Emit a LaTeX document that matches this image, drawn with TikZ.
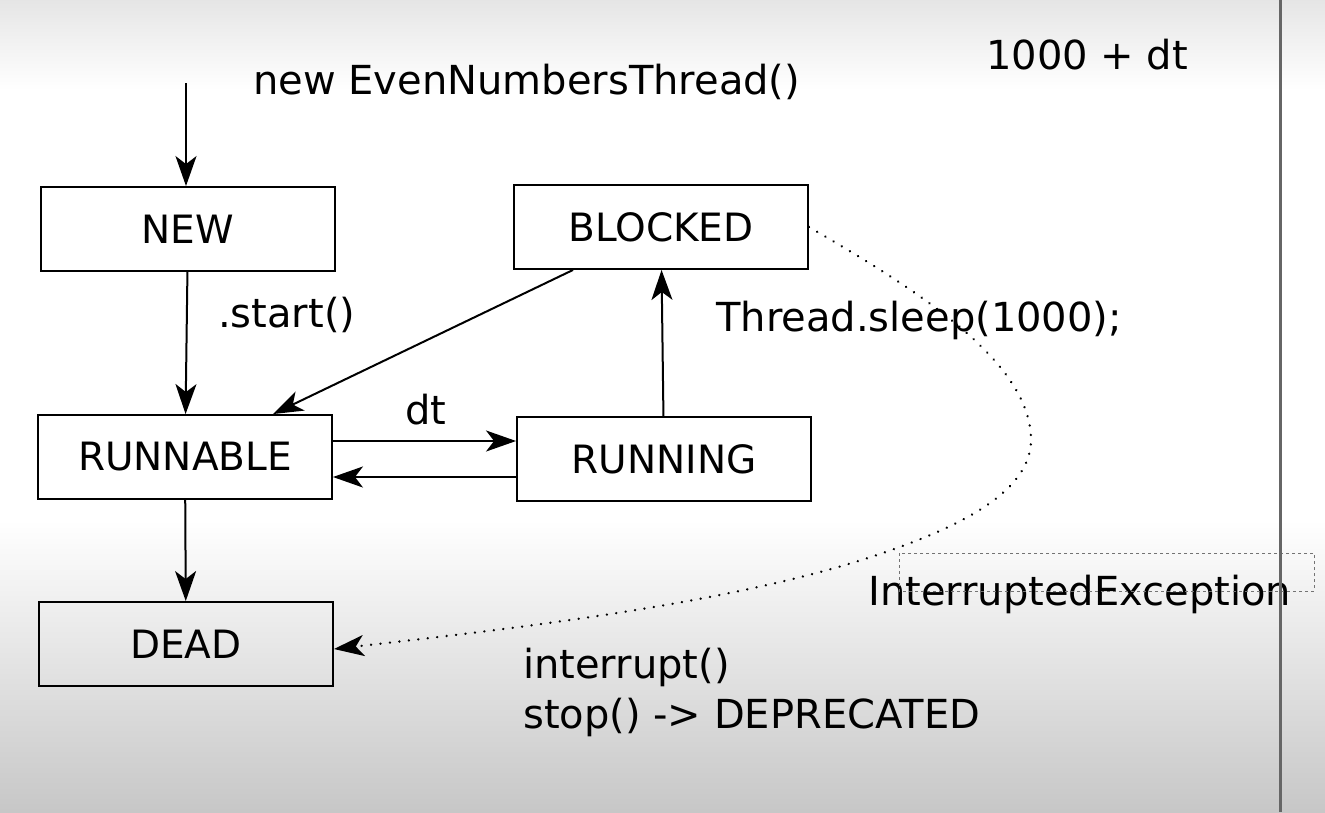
\documentclass[tikz,border=0pt]{standalone}
\usepackage{fontspec}
\setmainfont{DejaVu Sans}
\usetikzlibrary{arrows.meta}
\usetikzlibrary{positioning}

\begin{document}
\begin{tikzpicture}[x=1pt, y=-1pt,
	state/.style={draw, line width=1.9pt, minimum width=294pt, minimum height=84pt, inner sep=0pt, font=\fontsize{39}{45}\selectfont},
	note/.style={anchor=base west, inner sep=0pt, font=\fontsize{40}{46}\selectfont},
	trans/.style={line width=2pt, -{Stealth[length=30pt, width=21pt, inset=8pt]}}]

	\useasboundingbox (0,0) rectangle (1325,812);
	\shade[top color=black!10, bottom color=white] (0,0) rectangle (1325,90);
	\shade[top color=white, bottom color=black!22] (0,520) rectangle (1325,812);

	\foreach \name/\x/\y/\txt in {new/188/229/NEW, blocked/661/227/BLOCKED, runnable/185/457/RUNNABLE, running/664/459/RUNNING, dead/186/644/DEAD}{
		\draw (\x, \y) node[state] (\name) {\txt};
	}

	\draw (253, 94) node[note] (create) {new EvenNumbersThread()};
	\draw (218, 327) node[note] (start) {.start()};
	\draw (405, 424) node[note] (dt) {dt};
	\draw (716, 331) node[note] (sleep) {Thread.sleep(1000);};
	\draw (986, 69) node[note] (wake) {1000 + dt};
	\draw (868, 605) node[note] (exc) {InterruptedException};
	\draw (523, 678) node[note] (interrupt) {interrupt()};
	\draw (523, 728) node[note] (stop) {stop() -> DEPRECATED};

	\coordinate (entry) at (186, 83);
	\draw[trans] (entry) -- (new.north -| entry);
	\draw[trans] (new) -- (runnable);
	\draw[trans] ([xshift=-88pt]blocked.south) -- ([xshift=88pt]runnable.north);
	\draw[trans] ([yshift=16pt]runnable.east) -- ([yshift=16pt]runnable.east -| running.west);
	\draw[trans] ([yshift=-18pt]running.west) -- ([yshift=-18pt]running.west -| runnable.east);
	\draw[trans] (running) -- (blocked);
	\draw[trans] (runnable) -- (dead);

	\draw[trans, line cap=round, dash pattern=on 0.01pt off 9.5pt, line width=2.6pt]
		(blocked.east) .. controls (912, 287) and (1031, 360) .. (1031, 440)
		.. controls (1031, 495) and (950, 530) .. (880, 554)
		.. controls (730, 605) and (500, 630) .. ([yshift=-5pt]dead.east);

	\draw[black!55, dashed, line width=0.6pt] (899, 553) rectangle (1314, 591);
	\draw[black!60, line width=3pt] (1280, 0) -- (1280, 812);

\end{tikzpicture}
\end{document}
